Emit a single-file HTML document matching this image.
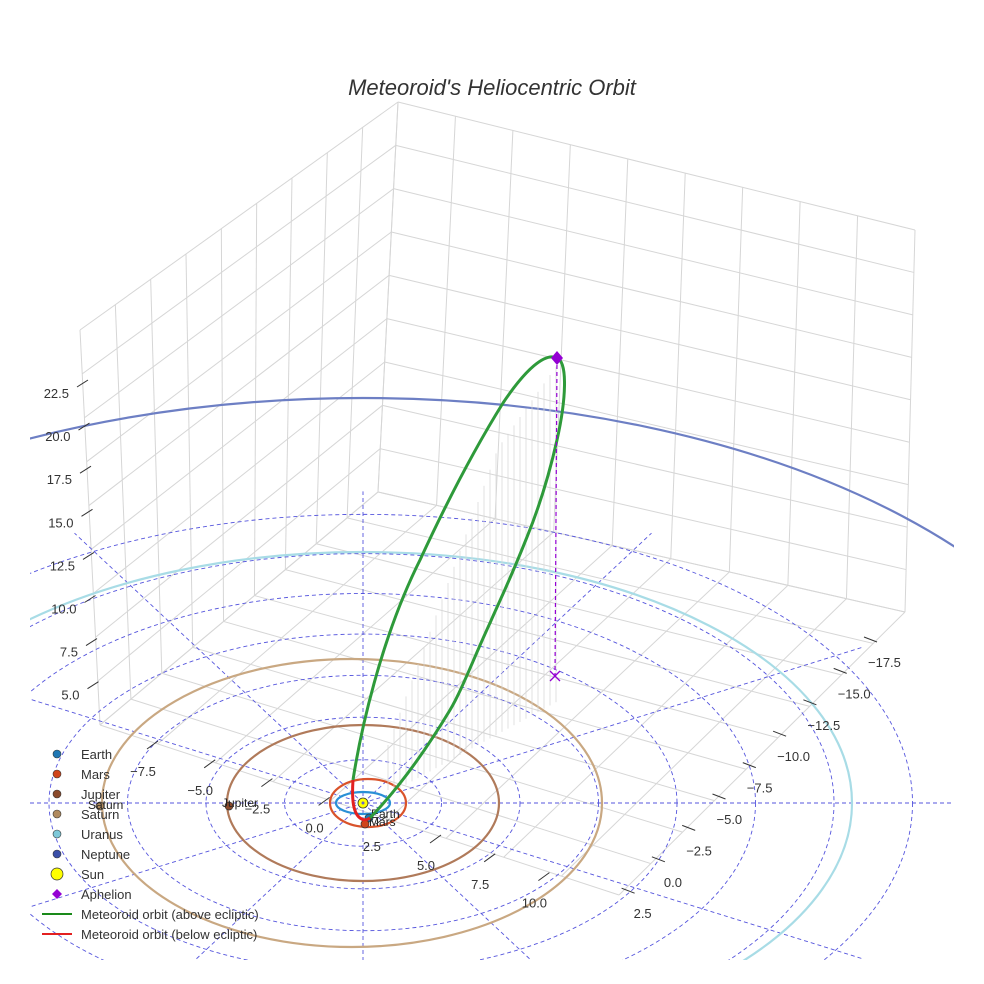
<!DOCTYPE html>
<html><head><meta charset="utf-8"><style>
html,body{margin:0;padding:0;background:#fff;width:984px;height:984px;overflow:hidden}
svg{display:block;font-family:"Liberation Sans",sans-serif}
</style></head><body>
<svg id="chart" width="984" height="984" viewBox="0 0 984 984">
<defs><clipPath id="cp"><rect x="30" y="0" width="924" height="960"/></clipPath></defs>
<text x="492" y="95" text-anchor="middle" font-size="22" font-style="italic" fill="#333">Meteoroid's Heliocentric Orbit</text>
<g id="box" stroke="#d6d6d6" stroke-width="1" fill="none"></g>
<g id="ecl" clip-path="url(#cp)" stroke="#5555dd" stroke-width="0.9" stroke-dasharray="4,3" fill="none"></g>
<g id="orbits" clip-path="url(#cp)" fill="none"></g>
<g id="drops" stroke="#d6d6d6" stroke-width="0.7"></g>
<g id="met" fill="none"></g>
<g id="ticks" font-size="13" fill="#333"></g>
<g id="legend" font-size="13" fill="#333"></g>
</svg>
<script>
const zTicks=["22.5","20.0","17.5","15.0","12.5","10.0","7.5","5.0"];
const yTicks=["-17.5","-15.0","-12.5","-10.0","-7.5","-5.0","-2.5","0.0","2.5"];
const xTicks=["-7.5","-5.0","-2.5","0.0","2.5","5.0","7.5","10.0"];
const planetNames=["Earth","Mars","Jupiter","Saturn","Uranus","Neptune"];
const planetRadii=[1.0,1.52,5.2,9.58,19.2,30.1];
const planetColors=["#2a8fd6","#d9532b","#b07a5a","#c9a882","#a8dce6","#6d7fc4"];
const legendLabels=["Earth","Mars","Jupiter","Saturn","Uranus","Neptune","Sun","Aphelion","Meteoroid orbit (above ecliptic)","Meteoroid orbit (below ecliptic)"];
const legendColors=["#1f77b4","#d0441a","#8b4a2b","#b08a5e","#7ec8d8","#3a4fa8","#ffff00","#9400d3","#1a8a1a","#e32020"];
const ringRadii=[2.5,5,7.5,10,12.5,15,17.5];
const NS="http://www.w3.org/2000/svg";
function mk(p,t,a){const e=document.createElementNS(NS,t);for(const k in a)e.setAttribute(k,a[k]);p.appendChild(e);return e;}
const C=[363,803];
function sx(r){const s=[[0,0],[1,27],[1.52,38],[2.5,78],[5.2,136],[9.58,250],[19.2,489],[30.1,764]];for(let i=1;i<s.length;i++){if(r<=s[i][0]){const a=s[i-1],b=s[i];return a[1]+(r-a[0])/(b[0]-a[0])*(b[1]-a[1]);}}return r*31.4;}
function sy(r){const s=[[0,0],[1,11],[1.52,24],[2.5,43],[5.2,78],[9.58,144],[19.2,251],[30.1,405]];for(let i=1;i<s.length;i++){if(r<=s[i][0]){const a=s[i-1],b=s[i];return a[1]+(r-a[0])/(b[0]-a[0])*(b[1]-a[1]);}}return r*13.5;}
function cxOf(r){return r>7&&r<12?352:(r>1.3&&r<2?368:363);}
const box=document.getElementById('box');
const T=[398,102],L=[80,330],R=[915,230],B0=[378,492],BL=[100,725],BR=[905,612],F=[619,895];
function lerp(a,b,t){return [a[0]+(b[0]-a[0])*t,a[1]+(b[1]-a[1])*t];}
function ln(a,b){mk(box,'line',{x1:a[0],y1:a[1],x2:b[0],y2:b[1]});}
for(let i=0;i<=9;i++){const t=i/9;
 ln(lerp(L,T,t),lerp(BL,B0,t));
 ln(lerp(T,R,t),lerp(B0,BR,t));
 ln(lerp(BL,B0,t),lerp(F,BR,t));
 ln(lerp(BL,F,t),lerp(B0,BR,t));
 ln(lerp(L,BL,t),lerp(T,B0,t));
 ln(lerp(T,B0,t),lerp(R,BR,t));
}
const ecl=document.getElementById('ecl');
ringRadii.forEach(r=>{const e=mk(ecl,'ellipse',{cx:C[0],cy:C[1],rx:r*31.4,ry:r*31.4*(0.555-r*0.0017)});

});
mk(ecl,'line',{x1:30,y1:C[1],x2:954,y2:C[1]});
for(let k=1;k<12;k++){if(k==6)continue;const a=k*Math.PI/6;const R2=17.5*31.4*1.05;mk(ecl,'line',{x1:C[0],y1:C[1],x2:C[0]+R2*Math.cos(a),y2:C[1]+R2*0.54*Math.sin(a)});}
const orb=document.getElementById('orbits');
planetRadii.forEach((r,i)=>{const e=mk(orb,'ellipse',{cx:cxOf(r),cy:C[1],rx:sx(r),ry:sy(r),stroke:planetColors[i],'stroke-width':2.2});

});
const pm=[[369,818,'#1f77b4'],[365,824,'#d0441a'],[229,806,'#8b4a2b'],[100,806,'#b08a5e']];
pm.forEach(p=>{mk(orb,'circle',{cx:p[0],cy:p[1],r:4,fill:p[2],stroke:'#333','stroke-width':0.7});});
const lbl=[[371,818,'Earth'],[369,826,'Mars'],[222,807,'Jupiter'],[88,809,'Saturn']];
lbl.forEach(l=>{const t=mk(orb,'text',{x:l[0],y:l[1],'font-size':12,fill:'#222'});t.textContent=l[2];});
mk(orb,'circle',{cx:363,cy:803,r:5,fill:'#ffff00',stroke:'#333','stroke-width':0.8});
mk(orb,'circle',{cx:363,cy:803,r:1.5,fill:'#6666cc'});
const met=document.getElementById('met');
const drops=document.getElementById('drops');
for(let x=388;x<=558;x+=6){const ytop=x<500?745-(x-388)*2.7:445-(x-500)*1.4;mk(drops,'line',{x1:x,y1:Math.max(ytop,362),x2:x,y2:Math.min(790,700+(560-x)*0.55)});}
mk(met,'path',{d:'M353,780 C360,735 380,640 420,560 C450,495 480,440 503,403 C525,370 545,352 557,358 C568,362 566,400 557,440 C548,480 538,510 527,537 C510,580 500,600 490,623 C475,655 462,690 450,710 C420,760 392,795 370,818',stroke:'#2e9a3a','stroke-width':3});
mk(met,'path',{d:'M353,780 C352,795 352,812 360,818 C364,821 367,820 370,818',stroke:'#e32020','stroke-width':3});
mk(met,'line',{x1:557,y1:358,x2:555,y2:676,stroke:'#9400d3','stroke-width':1.2,'stroke-dasharray':'4,3'});
mk(met,'path',{d:'M550,671 L560,681 M560,671 L550,681',stroke:'#9400d3','stroke-width':1.3});
mk(met,'path',{d:'M557,351 L563,358 L557,365 L551,358 Z',fill:'#9400d3'});
const tk=document.getElementById('ticks');
zTicks.forEach((s,i)=>{const y=393+i*43.1,xr=69+i*1.5;const t=mk(tk,'text',{x:xr,y:y+5,'text-anchor':'end'});t.textContent=s.replace('-','\u2212');mk(tk,'line',{x1:xr+8,y1:y-6,x2:xr+19,y2:y-13,stroke:'#333'});});
yTicks.forEach((s,i)=>{const x=868-i*30.3,y=662+i*31.4;const lx=s[0]=='-'?x:x+8;const t=mk(tk,'text',{x:lx,y:y+5});t.textContent=s.replace('-','\u2212');mk(tk,'line',{x1:x-4,y1:y-25,x2:x+9,y2:y-20,stroke:'#333'});});
xTicks.forEach((s,i)=>{const x=143+i*57.2-(i>4?(i-4)*3:0),y=771+i*18.8;const t=mk(tk,'text',{x:x,y:y+5,'text-anchor':'middle'});t.textContent=s.replace('-','\u2212');mk(tk,'line',{x1:x+4,y1:y-22,x2:x+15,y2:y-30,stroke:'#333'});});
const lg=document.getElementById('legend');
legendLabels.forEach((s,i)=>{const y=754+i*20;
 if(i<6)mk(lg,'circle',{cx:57,cy:y,r:4,fill:legendColors[i],stroke:'#333','stroke-width':0.6});
 else if(i==6)mk(lg,'circle',{cx:57,cy:y,r:6,fill:legendColors[i],stroke:'#333','stroke-width':0.7});
 else if(i==7)mk(lg,'path',{d:`M57,${y-5} L62,${y} L57,${y+5} L52,${y} Z`,fill:legendColors[i]});
 else mk(lg,'line',{x1:42,y1:y,x2:72,y2:y,stroke:legendColors[i],'stroke-width':2});
 const t=mk(lg,'text',{x:81,y:y+5});t.textContent=s;
 
 
});
</script>
</body></html>
